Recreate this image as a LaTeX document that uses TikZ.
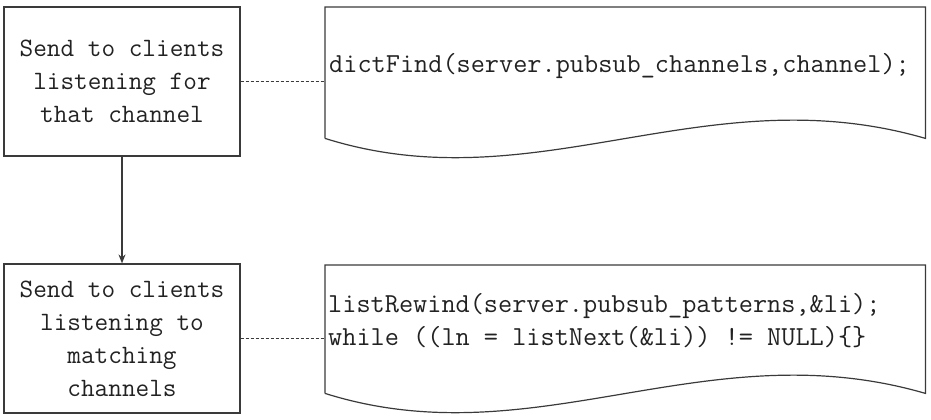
\documentclass[tikz,border=0pt]{standalone}
\usetikzlibrary{arrows.meta}
\definecolor{ln}{HTML}{3A3A3A}
\definecolor{tx}{HTML}{222222}
\begin{document}
\begin{tikzpicture}[x=1pt,y=-1pt,
 box/.style={draw=ln, line width=1.2pt, minimum width=236pt, minimum height=149pt, align=center, inner sep=0pt, text=tx, font=\fontsize{26.5}{33}\selectfont\ttfamily},
 docframe/.style={draw=none, minimum width=600pt, inner sep=0pt},
 docline/.style={draw=ln, line width=1.2pt, line join=miter},
 code/.style={anchor=base west, inner sep=0pt, text=tx, font=\fontsize{27.5}{33}\selectfont\ttfamily},
 link/.style={draw=ln, line width=0.9pt, dash pattern=on 3pt off 2pt},
 flow/.style={draw=ln, line width=1.2pt, -{Stealth[length=9pt,width=7pt]}}]
\useasboundingbox (0,0) rectangle (931,420);
% left boxes
\node[box] (b1) at (122,81.5) {Send to clients\\listening for\\that channel};
\node[box] (b2) at (122,338.5) {Send to clients\\listening to\\matching\\channels};
\draw[flow] (b1.south) -- (b2.north);
% document shapes
\node[docframe, minimum height=131pt, anchor=north west] (d1) at (325,7) {};
\node[docframe, minimum height=128pt, anchor=north west] (d2) at (325,265) {};
\draw[docline] (d1.south west) -- (d1.north west) -- (d1.north east) -- (d1.south east)
  .. controls +(-220,-64) and +(210,66) .. (d1.south west);
\draw[docline] (d2.south west) -- (d2.north west) -- (d2.north east) -- (d2.south east)
  .. controls +(-220,-64) and +(210,66) .. (d2.south west);
% code
\node[code] (c1) at (329,72) {dictFind(server.pubsub\_channels,channel);};
\node[code] (c2a) at (328,312) {listRewind(server.pubsub\_patterns,\&li);};
\node[code] (c2b) at (328,345) {while ((ln = listNext(\&li)) != NULL)\{\}};
% links
\draw[link] (b1.east) -- (b1.east -| d1.west);
\draw[link] (b2.east) -- (b2.east -| d2.west);
\end{tikzpicture}
\end{document}
